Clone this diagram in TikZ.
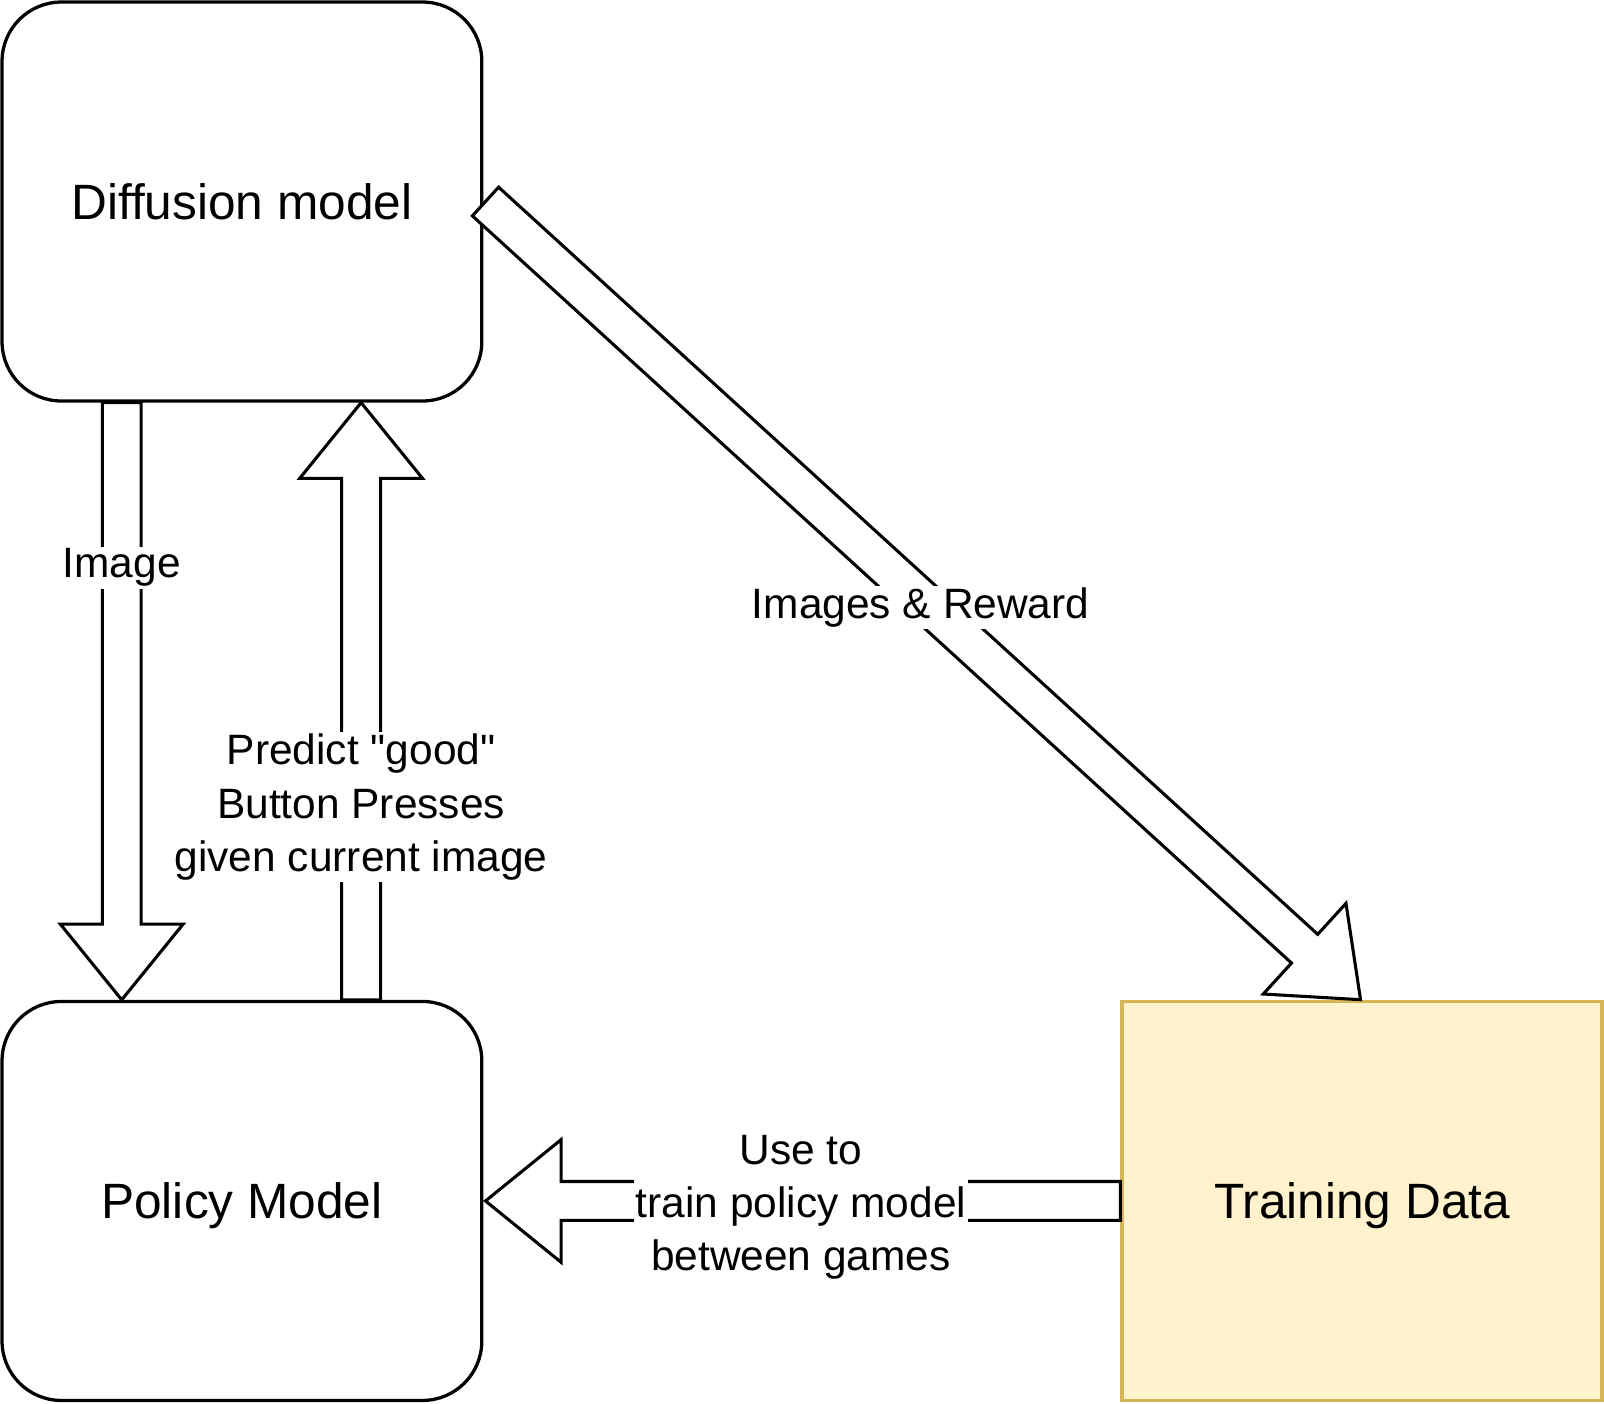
\documentclass[tikz,border=0pt]{standalone}
\usepackage{fontspec}
\setmainfont{Liberation Sans}[Ligatures=TeXOff]
\usetikzlibrary{calc}
\definecolor{tdfill}{HTML}{FFF2CC}
\definecolor{tdline}{HTML}{D6B656}
\newcommand{\flexarrow}[3]{%
  \coordinate (#3h) at ($(#2)!74pt!(#1)$);
  \draw[flex] ($(#1)!19pt!90:(#2)$) -- ($(#3h)!19pt!90:(#2)$) -- ($(#3h)!60pt!90:(#2)$) -- (#2)
    -- ($(#3h)!60pt!-90:(#2)$) -- ($(#3h)!19pt!-90:(#2)$) -- ($(#1)!19pt!-90:(#2)$) -- cycle;
}
\begin{document}
\begin{tikzpicture}[x=1pt,y=-1pt,
  box/.style={draw, line width=3.2pt, rounded corners=58pt, minimum width=469pt, minimum height=390pt, inner sep=0pt, text depth=0pt, font=\fontsize{48.5}{58}\selectfont},
  databox/.style={draw=tdline, fill=tdfill, line width=3.5pt, minimum width=469pt, minimum height=390pt, inner sep=0pt, text depth=0pt, font=\fontsize{48.5}{58}\selectfont},
  lab/.style={fill=white, align=center, inner sep=2pt, font=\fontsize{41.5}{52}\selectfont},
  flex/.style={draw, line width=3pt, fill=white, line join=miter}
]
\useasboundingbox (0,0) rectangle (1568,1372);

\node[box] (diff) at (236.5,197) {Diffusion model};
\node[box] (pol) at (236.5,1174) {Policy Model};
\node[databox] (td) at (1331.5,1174) {Training Data};

\coordinate (t1) at ([xshift=-117.5pt]diff.south);
\coordinate (p1) at ([xshift=-117.5pt]pol.north);
\coordinate (t2) at ([xshift=116.5pt]pol.north);
\coordinate (p2) at ([xshift=116.5pt]diff.south);
\coordinate (t3) at ([xshift=2pt]diff.east);
\coordinate (p3) at ([xshift=-1.5pt]td.north);
\coordinate (t4) at (td.west);
\coordinate (p4) at ([xshift=2pt]pol.east);

\flexarrow{t1}{p1}{a}
\flexarrow{t2}{p2}{b}
\flexarrow{t3}{p3}{c}
\flexarrow{t4}{p4}{d}

\node[lab] (limg) at (119,555) {Image};
\node[lab] (lrew) at (900,594) {Images \& Reward};
\node[lab] (lpred) at (353,789) {Predict "good"\\Button Presses\\given current image};
\node[lab] (luse) at (783,1180) {Use to\\train policy model\\between games};
\end{tikzpicture}
\end{document}
